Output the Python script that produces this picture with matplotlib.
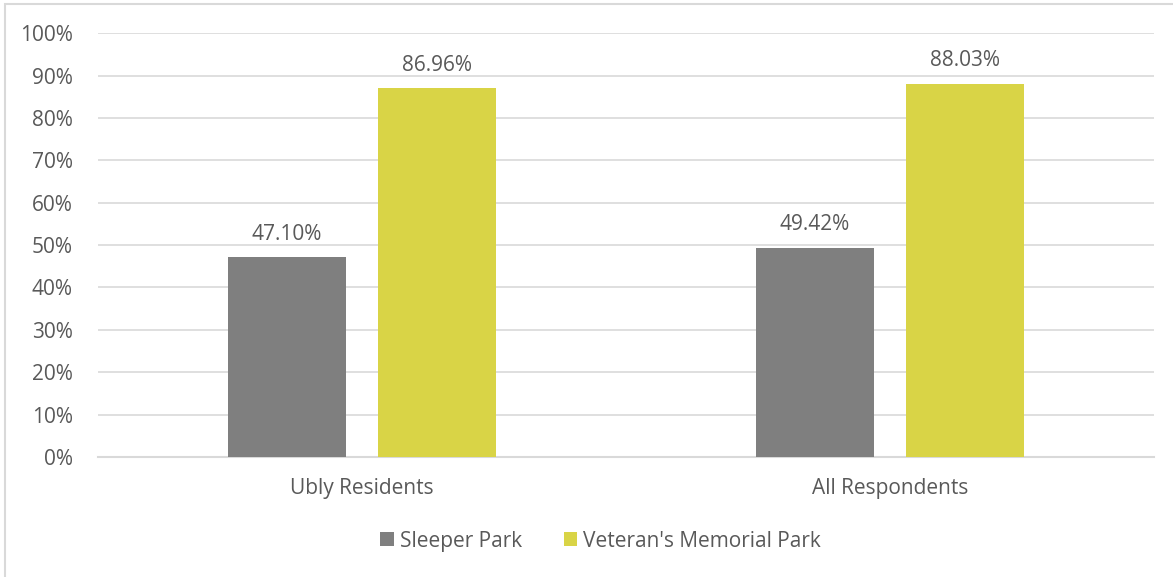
import matplotlib.pyplot as plt
from matplotlib.patches import Rectangle
import numpy as np

categories = ["Ubly Residents", "All Respondents"]
sleeper_park = [47.10, 49.42]
veterans_park = [86.96, 88.03]
series_names = ["Sleeper Park", "Veteran's Memorial Park"]
yticks = list(range(0, 101, 10))

TEXT = "#595959"
GRID = "#d9d9d9"
COLORS = ("#7f7f7f", "#d9d446")

plt.rcParams["font.family"] = ["Open Sans", "DejaVu Sans"]

fig = plt.figure(figsize=(11.73, 5.77), dpi=100)
ax = fig.add_axes([0.0835, 0.208, 0.9003, 0.7345])

x = np.arange(len(categories))
width = 0.224
offset = 0.142
for vals, off, color, name in zip((sleeper_park, veterans_park), (-offset, offset), COLORS, series_names):
    bars = ax.bar(x + off, vals, width, color=color, label=name, zorder=3)
    for b, v in zip(bars, vals):
        ax.annotate(f"{v:.2f}%", (b.get_x() + b.get_width() / 2, v),
                    xytext=(0, 9), textcoords="offset points",
                    ha="center", va="bottom", fontsize=15, color=TEXT)

ax.set_xlim(-0.5, len(categories) - 0.5)
ax.set_ylim(0, 100)
ax.set_yticks(yticks)
ax.set_yticklabels([f"{t}%" for t in yticks])
ax.set_xticks(x)
ax.set_xticklabels(categories)
ax.yaxis.grid(True, color=GRID, linewidth=1.2, zorder=0)
ax.tick_params(axis="both", length=0, labelsize=15, labelcolor=TEXT)
ax.tick_params(axis="y", pad=18)
ax.tick_params(axis="x", pad=15)
for side in ("top", "right", "left"):
    ax.spines[side].set_visible(False)
ax.spines["bottom"].set_color(GRID)
ax.spines["bottom"].set_linewidth(1.5)

fig.legend(loc="center", bbox_to_anchor=(0.512, 0.062), ncol=2, frameon=False,
           fontsize=15, labelcolor=TEXT, handlelength=0.65, handleheight=0.65,
           handletextpad=0.3, columnspacing=2.0)

fig.patches.append(Rectangle((0.004, -0.01), 1.0, 1.003, transform=fig.transFigure,
                             fill=False, edgecolor=GRID, linewidth=1.5))

fig.savefig("out.png", dpi=100)
